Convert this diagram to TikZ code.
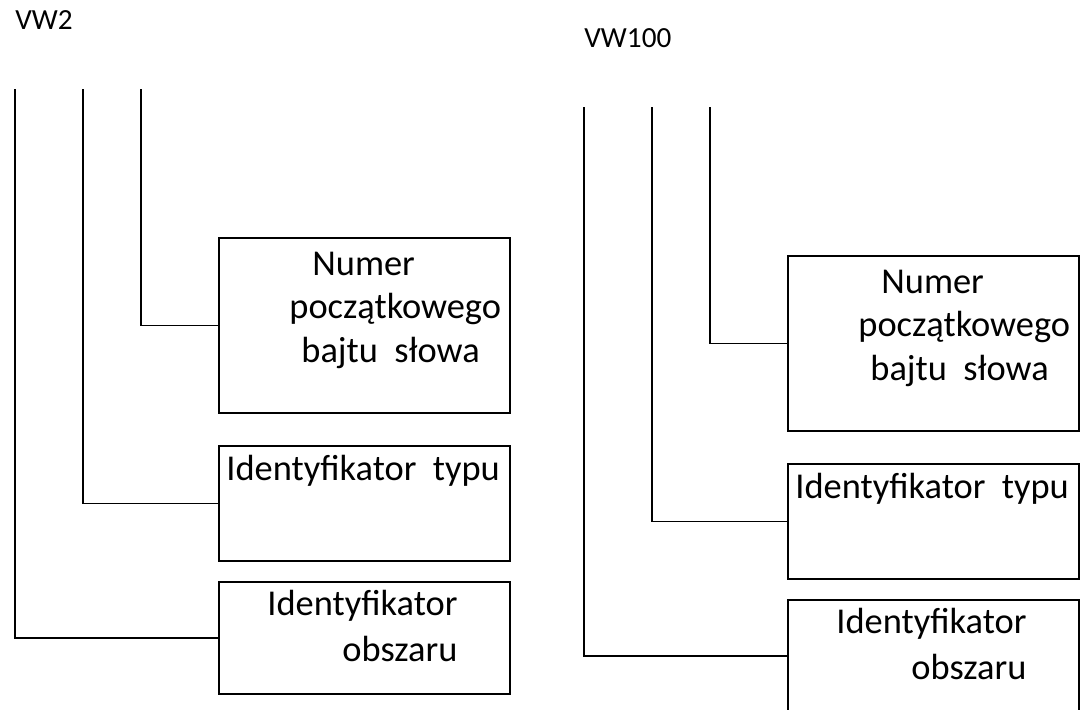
\documentclass[tikz,border=0pt]{standalone}
\usepackage{fontspec}
\setmainfont{Carlito}
\tikzset{wire/.style={line width=0.9pt}}
\tikzset{field/.style={draw, line width=0.9pt, outer sep=0pt, inner sep=0pt, anchor=north west, minimum width=145.5pt}}
\tikzset{word/.style={inner sep=0pt, anchor=base west, align=left, font=\fontsize{18.2pt}{21.75pt}\selectfont}}
\tikzset{addr/.style={inner sep=0pt, anchor=base west, font=\fontsize{14.6pt}{17pt}\selectfont}}

\begin{document}
\begin{tikzpicture}[x=0.5pt, y=-0.5pt]
    \clip (0, 0) rectangle (1082, 709);
    \foreach \name/\dx/\dy in {VW2/0/0, VW100/569/18} {
        \begin{scope}[shift={(\dx, \dy)}]
            \node[addr] (addr-\name) at (15, 29) {\name};
            % fields of the address
            \node[field, minimum height=87.5pt] (num-\name) at (219, 238) {};
            \node[field, minimum height=57.5pt] (typ-\name) at (219, 446) {};
            \node[field, minimum height=56pt] (obs-\name) at (219, 582) {};
            % base anchor sits on the last line
            \node[word] (numtxt-\name) at (289, 362) {\hspace*{11.5pt}Numer\\ początkowego\\ \hspace*{6pt}bajtu\ \ słowa};
            \node[word] (typtxt-\name) at (226, 480) {Identyfikator\ \ typu};
            \node[word] (obstxt-\name) at (267, 661) {Identyfikator\\[1.25pt] \hspace*{37.5pt}obszaru};
            % leads
            \coordinate (top-obs-\name) at (15, 89);
            \coordinate (top-typ-\name) at (83, 89);
            \coordinate (top-num-\name) at (141, 89);
            \draw[wire] (top-num-\name) |- (num-\name.west);
            \draw[wire] (top-typ-\name) |- (typ-\name.west);
            \draw[wire] (top-obs-\name) |- (obs-\name.west);
        \end{scope}
    }
\end{tikzpicture}
\end{document}
